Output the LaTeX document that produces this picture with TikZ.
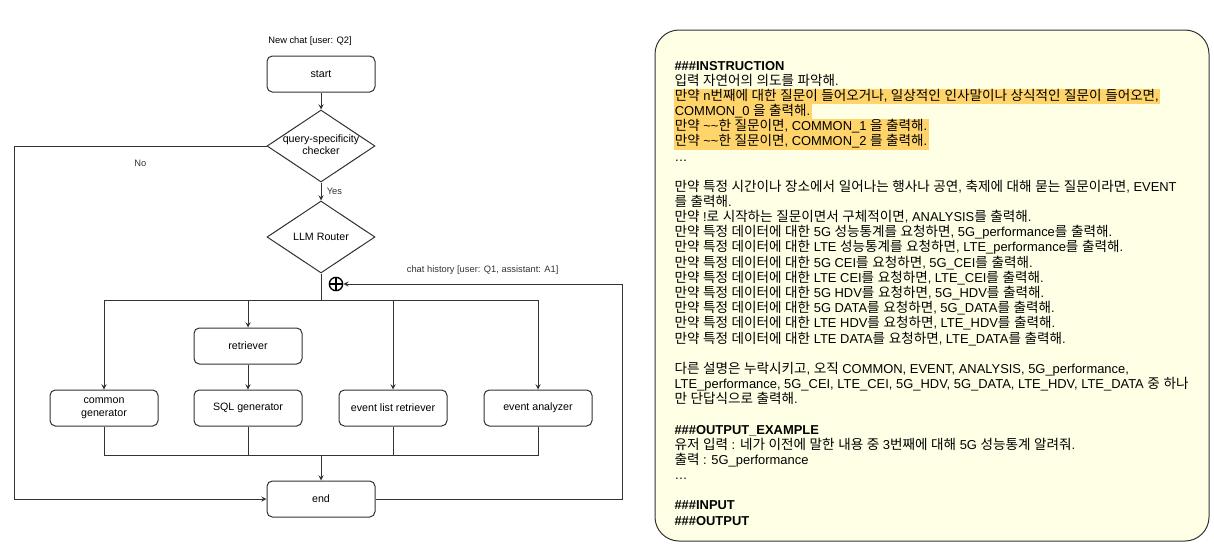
\documentclass[tikz,border=0pt]{standalone}
\usepackage{fontspec}
\setmainfont{Liberation Sans}
\newfontfamily\kr[Scale=1.05]{Noto Sans CJK KR}
\usetikzlibrary{shapes.geometric}

% switch to the Korean font for Hangul syllables
\XeTeXinterchartokenstate=1
\newXeTeXintercharclass\hangulclass
\count255="AC00
\loop\XeTeXcharclass\count255=\hangulclass
\ifnum\count255<"D7A3 \advance\count255 by 1 \repeat
\XeTeXinterchartoks 0 \hangulclass={\begingroup\kr}
\XeTeXinterchartoks 4095 \hangulclass={\begingroup\kr}
\XeTeXinterchartoks \hangulclass 0={\endgroup}
\XeTeXinterchartoks \hangulclass 4095={\endgroup}

\definecolor{linec}{HTML}{333333}
\definecolor{panelfill}{HTML}{FFFFE6}
\definecolor{hlc}{HTML}{FFD46B}

\newcommand{\squeezed}[1]{\makebox[0pt]{\begin{tabular}{@{}c@{}}#1\end{tabular}}}

\begin{document}
\begin{tikzpicture}[x=0.75pt, y=-0.75pt, >=stealth, line width=0.75pt,
        box/.style={draw=linec, fill=white, rounded corners=4pt, minimum width=81pt,
            minimum height=27pt, inner sep=0pt, font=\fontsize{8}{9.5}\selectfont, align=center},
        decision/.style={draw=linec, fill=white, shape=diamond, minimum width=81pt,
            minimum height=54pt, inner sep=0pt, font=\fontsize{8}{9.5}\selectfont},
        lbl/.style={font=\fontsize{7}{8}\selectfont, inner sep=1pt},
        plus/.style={circle, draw=black, line width=1pt, minimum size=10pt, inner sep=0pt,
            path picture={\draw[line width=1pt] (path picture bounding box.north) -- (path picture bounding box.south)
                (path picture bounding box.west) -- (path picture bounding box.east);}},
        txt/.style={anchor=base west, inner sep=0pt, align=left,
            font=\fontsize{9.7}{11.4}\selectfont},
        hl/.style={txt, fill=hlc, inner xsep=1pt, text height=8.6pt, text depth=2.8pt}]
    \useasboundingbox (0,0) rectangle (1214,550);

    % flowchart
    \node[lbl] (newchat) at (310,41) {New chat [user: Q2]};
    \node[box] (start) at (321,74) {start};
    \node[decision] (chk) at (321,146) {\squeezed{query-specificity\\checker}};
    \node[decision] (router) at (321,237) {LLM Router};
    \node[plus] (join) at (336,284) {};
    \node[box] (retr) at (248,346) {retriever};
    \node[box] (common) at (104,408) {common\\generator};
    \node[box] (sql) at (248,408) {SQL generator};
    \node[box] (evlist) at (393,408) {event list retriever};
    \node[box] (evana) at (538,408) {event analyzer};
    \node[box] (end) at (321,499) {end};

    \coordinate (split) at (321,300);
    \coordinate (merge) at (321,455);
    \coordinate (lft) at (14,499);
    \coordinate (rgt) at (622,284);

    \draw[->, linec] (start) -- (chk);
    \draw[->, linec] (chk) -- node[lbl, right, xshift=3pt]{Yes} (router);
    \draw[linec] (router) -- (split);
    \foreach \n in {common, retr, evlist, evana}
        \draw[->, linec] (split) -| (\n);
    \draw[->, linec] (retr) -- (sql);
    \foreach \n in {common, sql, evlist, evana}
        \draw[linec] (\n) |- (merge);
    \draw[->, linec] (merge) -- (end);
    \draw[->, linec] (chk.west) -- node[lbl, below=9pt]{No} (chk.west -| lft) -- (lft) -- (end.west);
    \draw[->, linec] (end.east) -| (rgt) -- node[lbl, above=6pt]{chat history [user: Q1, assistant: A1]} (join);

    % prompt panel
    \draw[draw=linec, fill=panelfill, rounded corners=18pt] (655,30) rectangle (1209,541);
    \node[txt] (instr) at (674,85.2) {\textbf{\#\#\#INSTRUCTION}\\
        입력 자연어의 의도를 파악해.};
    \node[hl] (hla) at (673,100.3) {만약 n번째에 대한 질문이 들어오거나, 일상적인 인사말이나 상식적인 질문이 들어오면,};
    \node[hl] (hlb) at (673,115.5) {COMMON\_0 을 출력해.};
    \node[hl] (hlc) at (673,130.7) {만약 \textasciitilde\textasciitilde 한 질문이면, COMMON\_1 을 출력해.};
    \node[hl] (hld) at (673,145.9) {만약 \textasciitilde\textasciitilde 한 질문이면, COMMON\_2 를 출력해.};
    \node[txt] (dots) at (674,161) {…};
    \node[txt] (rules) at (674,343.1) {만약 특정 시간이나 장소에서 일어나는 행사나 공연, 축제에 대해 묻는 질문이라면, EVENT\\
        를 출력해.\\
        만약 !로 시작하는 질문이면서 구체적이면, ANALYSIS를 출력해.\\
        만약 특정 데이터에 대한 5G 성능통계를 요청하면, 5G\_performance를 출력해.\\
        만약 특정 데이터에 대한 LTE 성능통계를 요청하면, LTE\_performance를 출력해.\\
        만약 특정 데이터에 대한 5G CEI를 요청하면, 5G\_CEI를 출력해.\\
        만약 특정 데이터에 대한 LTE CEI를 요청하면, LTE\_CEI를 출력해.\\
        만약 특정 데이터에 대한 5G HDV를 요청하면, 5G\_HDV를 출력해.\\
        만약 특정 데이터에 대한 5G DATA를 요청하면, 5G\_DATA를 출력해.\\
        만약 특정 데이터에 대한 LTE HDV를 요청하면, LTE\_HDV를 출력해.\\
        만약 특정 데이터에 대한 LTE DATA를 요청하면, LTE\_DATA를 출력해.};
    \node[txt] (only) at (674,403.7) {다른 설명은 누락시키고, 오직 COMMON, EVENT, ANALYSIS, 5G\_performance,\\
        LTE\_performance, 5G\_CEI, LTE\_CEI, 5G\_HDV, 5G\_DATA, LTE\_HDV, LTE\_DATA 중 하나\\
        만 단답식으로 출력해.};
    \node[txt] (example) at (674,479.6) {\textbf{\#\#\#OUTPUT\_EXAMPLE}\\
        유저 입력 : 네가 이전에 말한 내용 중 3번째에 대해 5G 성능통계 알려줘.\\
        출력 : 5G\_performance\\
        …};
    \node[txt] (io) at (674,525.1) {\textbf{\#\#\#INPUT}\\
        \textbf{\#\#\#OUTPUT}};
\end{tikzpicture}
\end{document}
